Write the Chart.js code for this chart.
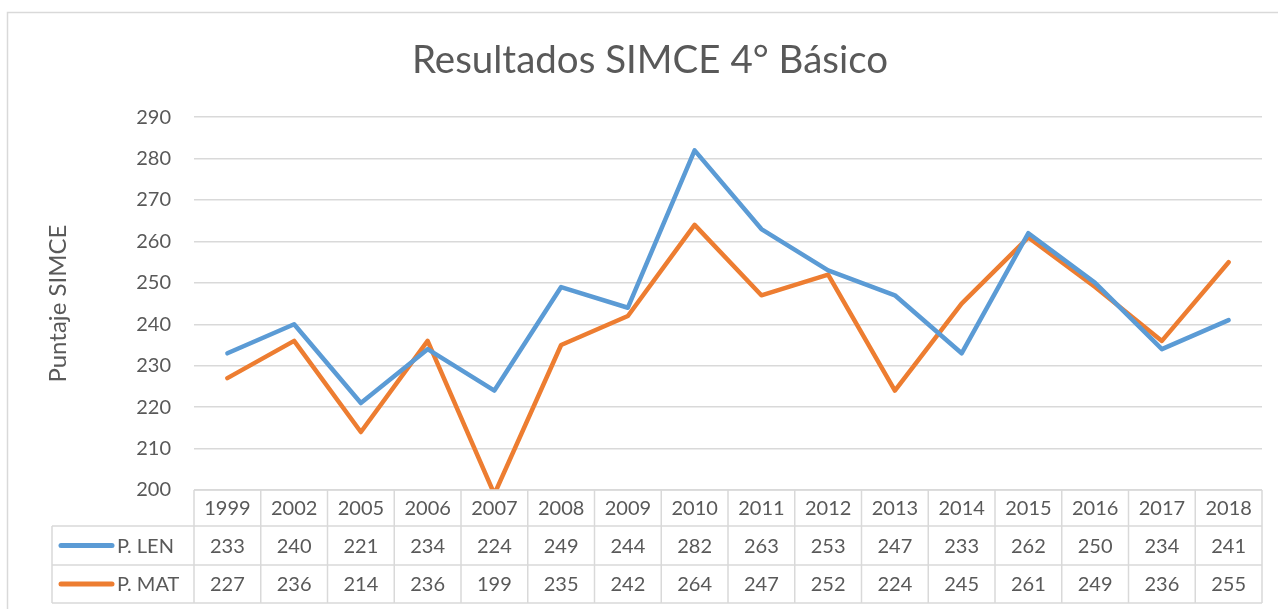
<!DOCTYPE html>
<html>
<head>
<meta charset="utf-8">
<script src="https://cdn.jsdelivr.net/npm/chart.js@4.4.1/dist/chart.umd.min.js"></script>
<style>
  html, body { margin:0; padding:0; background:#fff; }
  #wrap { width:1278px; height:609px; position:relative; }
</style>
</head>
<body>
<div id="wrap"><canvas id="graf" width="1278" height="609"></canvas></div>
<script>
const years = ['1999','2002','2005','2006','2007','2008','2009','2010','2011','2012','2013','2014','2015','2016','2017','2018'];
const pLen = [233,240,221,234,224,249,244,282,263,253,247,233,262,250,234,241];
const pMat = [227,236,214,236,199,235,242,264,247,252,224,245,261,249,236,255];
const seriesNames = ['P. LEN','P. MAT'];
const seriesColors = ['#5B9BD5','#ED7D31'];

const txtColor = '#595959', gridColor = '#d9d9d9';
const fontFam = 'Lato, "Open Sans", sans-serif';

// tabla de datos bajo el grafico
const tablaPlugin = {
  id: 'tabla',
  afterDraw(chart){
    const ctx = chart.ctx, xs = chart.scales.x, area = chart.chartArea;
    const rowsY = [area.bottom, area.bottom+36, area.bottom+75, area.bottom+113];
    const left0 = 52;
    const half = (xs.getPixelForValue(1)-xs.getPixelForValue(0))/2;
    ctx.save();
    // marco exterior
    ctx.strokeStyle = gridColor; ctx.lineWidth = 1.5;
    ctx.beginPath();
    ctx.moveTo(7.5, 609); ctx.lineTo(7.5, 12.5); ctx.lineTo(1278, 12.5);
    ctx.stroke();
    // lineas de la tabla
    ctx.lineWidth = 1.5;
    ctx.beginPath();
    ctx.moveTo(area.left, rowsY[0]); ctx.lineTo(area.right, rowsY[0]);
    for (let r=1;r<4;r++){ ctx.moveTo(left0, rowsY[r]); ctx.lineTo(area.right, rowsY[r]); }
    ctx.moveTo(left0, rowsY[1]); ctx.lineTo(left0, rowsY[3]);
    for (let i=0;i<=years.length;i++){
      const x = xs.getPixelForValue(i) - half;
      ctx.moveTo(x, rowsY[0]); ctx.lineTo(x, rowsY[3]);
    }
    ctx.stroke();
    // textos
    ctx.fillStyle = txtColor;
    ctx.font = '20px ' + fontFam;
    ctx.textAlign = 'center'; ctx.textBaseline = 'middle';
    const rowsData = [years, pLen, pMat];
    rowsData.forEach((row, r) => {
      const cy = (rowsY[r]+rowsY[r+1])/2 + 1;
      row.forEach((v, i) => ctx.fillText(String(v), xs.getPixelForValue(i), cy));
    });
    // leyenda en la tabla
    seriesNames.forEach((nm, k) => {
      const cy = (rowsY[k+1]+rowsY[k+2])/2;
      ctx.strokeStyle = seriesColors[k]; ctx.lineWidth = 5; ctx.lineCap = 'round';
      ctx.beginPath(); ctx.moveTo(61, cy); ctx.lineTo(112, cy); ctx.stroke();
      ctx.textAlign = 'left'; ctx.fillStyle = txtColor;
      ctx.fillText(nm, 117, cy + 1);
    });
    ctx.restore();
  }
};

new Chart(document.getElementById('graf'), {
  type: 'line',
  data: {
    labels: years,
    datasets: [
      { label: seriesNames[0], data: pLen, borderColor: seriesColors[0], backgroundColor: seriesColors[0] },
      { label: seriesNames[1], data: pMat, borderColor: seriesColors[1], backgroundColor: seriesColors[1] }
    ]
  },
  options: {
    responsive: false,
    animation: false,
    layout: { padding: { left: 38, right: 16, top: 0, bottom: 119 } },
    elements: {
      line: { borderWidth: 4.5, tension: 0, borderCapStyle: 'round', borderJoinStyle: 'round', fill: false },
      point: { radius: 0, hoverRadius: 0 }
    },
    datasets: { line: { clip: { left: 6, right: 6, top: 6, bottom: 0 } } },
    scales: {
      x: { type: 'category', offset: true, display: false },
      y: {
        min: 200, max: 290,
        afterFit(s){ s.width = 156; },
        border: { display: false },
        grid: { color: gridColor, lineWidth: 1.5, drawTicks: false },
        ticks: { stepSize: 10, padding: 23, color: txtColor, font: { family: fontFam, size: 20 } },
        title: { display: true, text: 'Puntaje SIMCE', color: txtColor, padding: { top: 6, bottom: 0 },
                 font: { family: fontFam, size: 24 } }
      }
    },
    plugins: {
      legend: { display: false },
      tooltip: { enabled: false },
      title: { display: true, text: 'Resultados SIMCE 4° Básico', color: txtColor,
               font: { family: fontFam, size: 38.5, weight: 'normal' },
               padding: { top: 37, bottom: 34 } }
    }
  },
  plugins: [tablaPlugin]
});
</script>
</body>
</html>
